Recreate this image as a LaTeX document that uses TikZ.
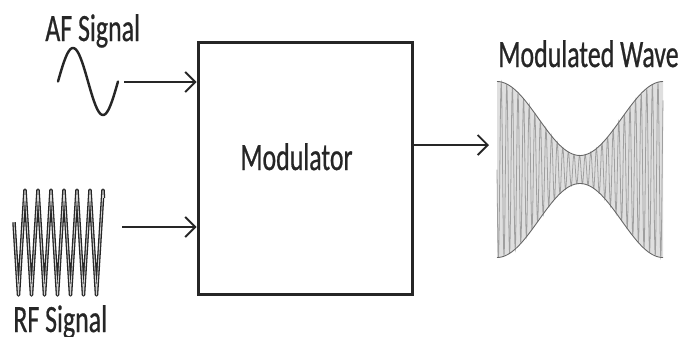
\documentclass[tikz,border=0pt]{standalone}
\usepackage{fontspec}
\setmainfont{Carlito}[FakeStretch=0.67, FakeBold=0.6]
\usetikzlibrary{arrows.meta}

\tikzset{
  sig/.style={font=\fontsize{22}{26}\selectfont, text=black!85, inner sep=0pt},
  block/.style={draw=black!85, line width=1.7pt, minimum width=4.3cm, minimum height=5.06cm, inner sep=0pt},
  arr/.style={line width=1.1pt, draw=black!85, -{Straight Barb[length=2mm,width=4mm]}},
}

\begin{document}
\begin{tikzpicture}[x=0.02cm, y=-0.02cm]
  \useasboundingbox (0,0) rectangle (684,336);

  % labels
  \node[sig, anchor=base west] (af) at (45,41) {AF Signal};
  \node[sig, anchor=base west] (rf) at (13,332) {RF Signal};
  \node[sig, anchor=base west] (out) at (498,67) {Modulated Wave};

  % modulator block
  \node[block] (mod) at (305.5,168.5) {};
  \node[sig, anchor=base] (modtext) at (296.5,170) {Modulator};

  % AF signal: one period of a sine
  \draw[line width=1.4pt, black!85, line cap=round]
    plot[domain=58:118, samples=60, smooth] (\x, {81.5-33.5*sin(6*(\x-58))});

  % RF signal: triangle wave (period 13), hollow stroke
  \draw[double=gray!35, double distance=0.5pt, line width=0.75pt, black!85, line join=round]
    plot[domain=14:103.5, samples=180] (\x, {242.5-52.5*asin(sin(27.69*(\x-21.75)))/90});

  % modulated wave: envelope and carrier (period 5.6)
  \fill[gray!25]
    plot[domain=497:663, samples=80, smooth] (\x, {169.5-(51-37*cos(2.169*(\x-580)))})
    -- plot[domain=663:497, samples=80, smooth] (\x, {169.5+(51-37*cos(2.169*(\x-580)))}) -- cycle;
  \draw[gray!75, line width=0.45pt]
    plot[domain=497:663, samples=500] (\x, {169.5+(51-37*cos(2.169*(\x-580)))*sin(64.29*(\x-497))});
  \draw[black!60, line width=0.5pt]
    plot[domain=497:663, samples=80, smooth] (\x, {169.5-(51-37*cos(2.169*(\x-580)))});
  \draw[black!60, line width=0.5pt]
    plot[domain=497:663, samples=80, smooth] (\x, {169.5+(51-37*cos(2.169*(\x-580)))});

  % connectors
  \coordinate (af end) at (124,82);
  \coordinate (rf end) at (122,227);
  \coordinate (wave in) at (489,145);
  \draw[arr] (af end) -- (af end -| mod.west);
  \draw[arr] (rf end) -- (rf end -| mod.west);
  \draw[arr] (wave in -| mod.east) -- (wave in);
\end{tikzpicture}
\end{document}
